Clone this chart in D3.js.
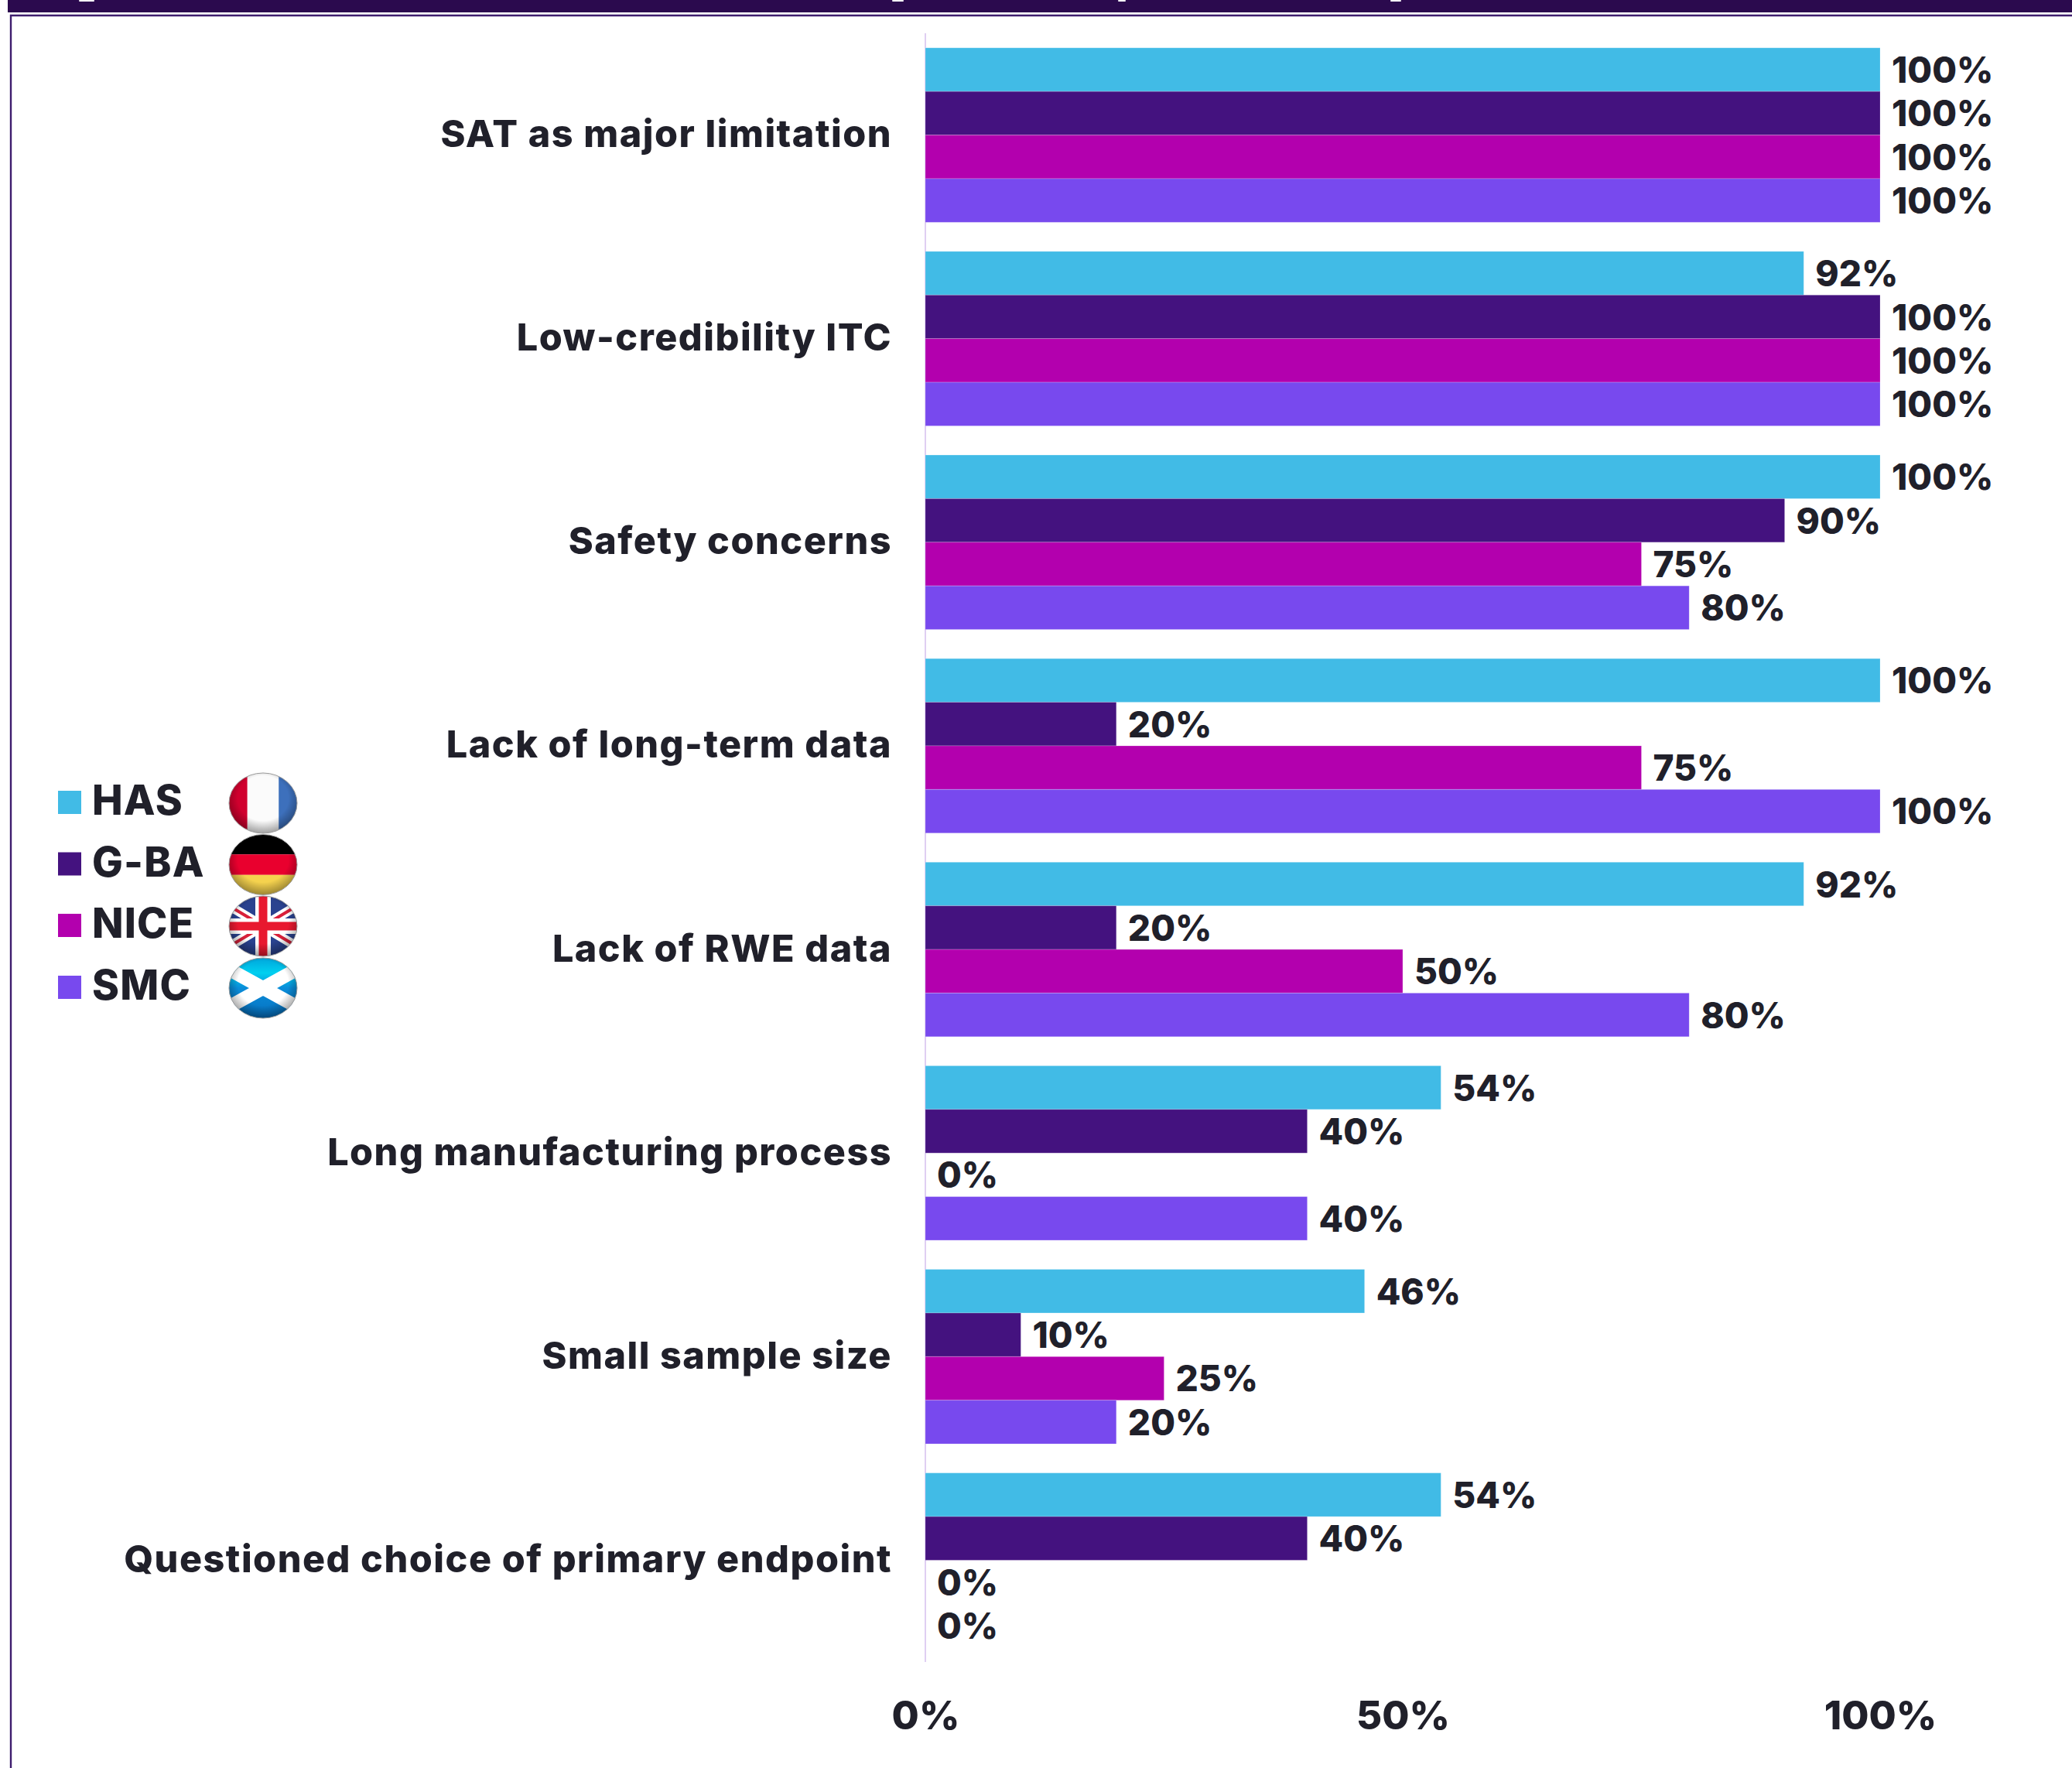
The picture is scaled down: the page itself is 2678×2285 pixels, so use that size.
<!DOCTYPE html>
<html>
<head>
<meta charset="utf-8">
<script src="https://cdn.jsdelivr.net/npm/d3@7/dist/d3.min.js"></script>
<style>
html, body { margin: 0; padding: 0; background: #fff; }
svg { display: block; }
text { font-family: Inter, "Open Sans", sans-serif; font-weight: 800; fill: #20202A; }
</style>
</head>
<body>
<svg id="chart" width="2678" height="2285"></svg>
<script>
// Share of appraisals citing each limitation, by HTA body
const categories = [
  "SAT as major limitation",
  "Low-credibility ITC",
  "Safety concerns",
  "Lack of long-term data",
  "Lack of RWE data",
  "Long manufacturing process",
  "Small sample size",
  "Questioned choice of primary endpoint"
];
const agencies = ["HAS", "G-BA", "NICE", "SMC"];
const hasValues  = [100, 92, 100, 100, 92, 54, 46, 54];
const gbaValues  = [100, 100, 90, 20, 20, 40, 10, 40];
const niceValues = [100, 100, 75, 75, 50, 0, 25, 0];
const smcValues  = [100, 100, 80, 100, 80, 40, 20, 0];
const seriesValues = [hasValues, gbaValues, niceValues, smcValues];
const agencyColors = ["#41BBE6", "#44127F", "#B300AE", "#7849EE"];
const xTicks = [0, 50, 100];

const svg = d3.select("#chart");
const defs = svg.append("defs");

// Page furniture: dark banner, the descenders of its clipped heading, and a thin frame
svg.append("rect").attr("x", 10).attr("y", 0).attr("width", 2668).attr("height", 16).attr("fill", "#2B0A4E");
svg.append("g").attr("fill", "#fff").selectAll("rect").data([[102, 20], [1153, 15], [1445, 10], [1797, 14]]).join("rect")
  .attr("x", d => d[0]).attr("y", 0).attr("width", d => d[1]).attr("height", 2).attr("rx", 1);
svg.append("path").attr("d", "M14 2285V20H2678").attr("fill", "none").attr("stroke", "#3E1D6E").attr("stroke-width", 2.4);

const x = d3.scaleLinear().domain([0, 100]).range([1196, 2430]);
const y = d3.scaleBand().domain(categories).range([43, 2148]).paddingInner(0.143).paddingOuter(0.0715);
const inner = d3.scaleBand().domain(agencies).range([0, y.bandwidth()]);

// Zero line
svg.append("line").attr("x1", x(0)).attr("x2", x(0)).attr("y1", 43).attr("y2", 2148)
  .attr("stroke", "#DFCFF2").attr("stroke-width", 2);

// Category labels through a left axis
const yAxis = svg.append("g").attr("transform", `translate(${x(0)},0)`)
  .call(d3.axisLeft(y).tickSize(0).tickPadding(43));
yAxis.select(".domain").remove();
yAxis.attr("font-family", null).attr("font-size", null);
yAxis.selectAll("text").attr("font-size", 48.5).attr("letter-spacing", 1.5);

// Percent axis
const xAxis = svg.append("g").attr("transform", "translate(0,2148)")
  .call(d3.axisBottom(x).tickValues(xTicks).tickFormat(d => d + "%").tickSize(0));
xAxis.select(".domain").remove();
xAxis.attr("font-family", null).attr("font-size", null);
xAxis.selectAll("text").attr("font-size", 51).attr("y", 87).attr("dy", 0);

// Bars and their value labels
const rows = agencies.map((a, i) => categories.map((c, j) => ({ a, c, v: seriesValues[i][j], color: agencyColors[i] })));
const series = svg.selectAll("g.series").data(rows).join("g").attr("class", "series");

series.selectAll("rect").data(d => d).join("rect")
  .attr("x", x(0))
  .attr("y", d => y(d.c) + inner(d.a))
  .attr("width", d => x(d.v) - x(0))
  .attr("height", inner.bandwidth())
  .attr("fill", d => d.color)
  .attr("stroke", d => d.v > 0 ? "rgba(255,255,255,0.2)" : "none")
  .attr("stroke-width", 1);

series.selectAll("text").data(d => d).join("text")
  .attr("x", d => x(d.v) + 15)
  .attr("y", d => y(d.c) + inner(d.a) + inner.bandwidth() / 2 + 17)
  .attr("font-size", 46)
  .text(d => d.v + "%");

// Legend
const legendRow = d3.scaleOrdinal().domain(agencies).range([1022, 1101.5, 1181, 1261]);
const legend = svg.selectAll("g.key").data(agencies).join("g").attr("class", "key");
legend.append("rect").attr("x", 75).attr("y", d => legendRow(d)).attr("width", 30).attr("height", 30)
  .attr("fill", (d, i) => agencyColors[i]);
legend.append("text").attr("x", 119).attr("y", d => legendRow(d) + 31).attr("font-size", 53).attr("letter-spacing", 1.2).text(d => d);

// Round glossy flags next to the legend
const flagBands = [
  [["v", 0, 0.27, "#D0002E"], ["v", 0.27, 0.73, "#FBFBFB"], ["v", 0.73, 1, "#3D70BC"]],
  [["h", 0, 0.33, "#000000"], ["h", 0.33, 0.67, "#E9002E"], ["h", 0.67, 1, "#F5D24E"]]
];
const flagCx = 340, flagRx = 44, flagRy = 39;
const gloss = defs.append("radialGradient").attr("id", "gloss").attr("cx", "50%").attr("cy", "42%").attr("r", "60%");
gloss.append("stop").attr("offset", "62%").attr("stop-color", "#000").attr("stop-opacity", 0);
gloss.append("stop").attr("offset", "100%").attr("stop-color", "#000").attr("stop-opacity", 0.4);
const skyBlue = defs.append("linearGradient").attr("id", "saltireBlue").attr("x1", 0).attr("y1", 0).attr("x2", 0).attr("y2", 1);
skyBlue.append("stop").attr("offset", "0%").attr("stop-color", "#00A6DC");
skyBlue.append("stop").attr("offset", "25%").attr("stop-color", "#00D0F0");
skyBlue.append("stop").attr("offset", "50%").attr("stop-color", "#0A8CD8");
skyBlue.append("stop").attr("offset", "100%").attr("stop-color", "#0670C0");

const flags = svg.selectAll("g.flag").data(agencies).join("g").attr("class", "flag")
  .attr("transform", d => `translate(${flagCx - flagRx},${legendRow(d) + 16 - flagRy})`);
const W = flagRx * 2, H = flagRy * 2;
flags.each(function (d, i) {
  const g = d3.select(this);
  const id = "clip" + i;
  defs.append("clipPath").attr("id", id).append("ellipse")
    .attr("cx", flagRx).attr("cy", flagRy).attr("rx", flagRx).attr("ry", flagRy);
  const c = g.append("g").attr("clip-path", `url(#${id})`);
  if (i < 2) {
    flagBands[i].forEach(([o, a, b, col]) => {
      if (o === "v") c.append("rect").attr("x", a * W).attr("width", (b - a) * W).attr("height", H).attr("fill", col);
      else c.append("rect").attr("y", a * H).attr("height", (b - a) * H).attr("width", W).attr("fill", col);
    });
  } else if (i === 2) {
    c.append("rect").attr("width", W).attr("height", H).attr("fill", "#2A428F");
    const diag = `M${W / 2 - 60} ${H / 2 - 36}L${W / 2 + 60} ${H / 2 + 36}M${W / 2 + 60} ${H / 2 - 36}L${W / 2 - 60} ${H / 2 + 36}`;
    c.append("path").attr("d", diag).attr("stroke", "#fff").attr("stroke-width", 12);
    c.append("path").attr("d", diag).attr("stroke", "#D9203A").attr("stroke-width", 4);
    const cross = `M${W / 2} 0V${H}M0 ${H / 2}H${W}`;
    c.append("path").attr("d", cross).attr("stroke", "#fff").attr("stroke-width", 20);
    c.append("path").attr("d", cross).attr("stroke", "#E8192F").attr("stroke-width", 11);
  } else {
    c.append("rect").attr("width", W).attr("height", H).attr("fill", "url(#saltireBlue)");
    const diag = `M${W / 2 - 70} ${H / 2 - 38.5}L${W / 2 + 70} ${H / 2 + 38.5}M${W / 2 + 70} ${H / 2 - 38.5}L${W / 2 - 70} ${H / 2 + 38.5}`;
    c.append("path").attr("d", diag).attr("stroke", "#fff").attr("stroke-width", 17.5);
  }
  c.append("ellipse").attr("cx", flagRx).attr("cy", flagRy).attr("rx", flagRx).attr("ry", flagRy).attr("fill", "url(#gloss)");
  g.append("ellipse").attr("cx", flagRx).attr("cy", flagRy).attr("rx", flagRx).attr("ry", flagRy)
    .attr("fill", "none").attr("stroke", "#9a9a9a").attr("stroke-width", 1);
});
</script>
</body>
</html>
